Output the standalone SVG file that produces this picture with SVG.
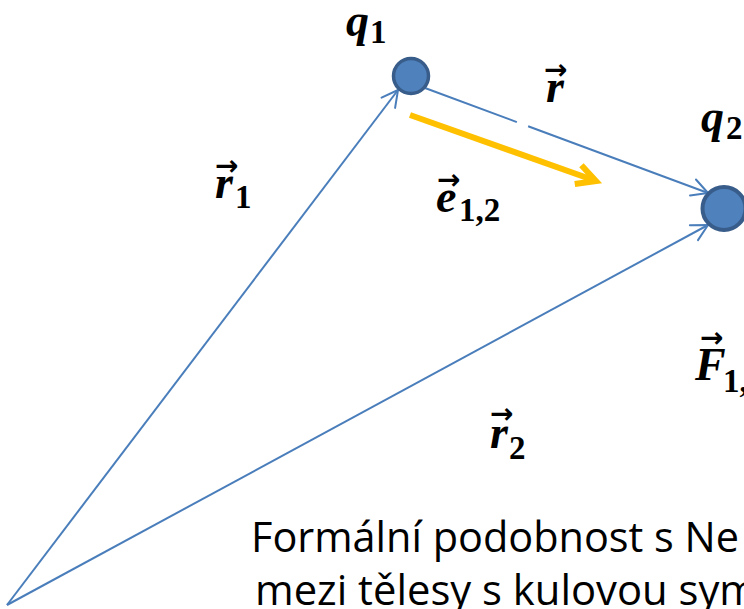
<svg xmlns="http://www.w3.org/2000/svg" width="744" height="609" viewBox="0 0 744 609">
<defs>
<style>
.ln{fill:none;stroke:#4A7EBB;stroke-width:2}
.node{fill:#4F81BD;stroke:#385D8A}
.mi{font-family:"Liberation Serif","DejaVu Serif",serif;font-weight:bold;font-style:italic;font-size:46px;fill:#000}
.sub{font-family:"Liberation Serif","DejaVu Serif",serif;font-weight:bold;font-size:33px;fill:#000}
.vec{font-family:"DejaVu Sans",sans-serif;font-weight:bold;font-size:28px;fill:#000}
.body{font-family:"Open Sans","Noto Sans",sans-serif;font-size:42px;fill:#000}
</style>
<marker id="arrB" markerUnits="userSpaceOnUse" markerWidth="40" markerHeight="40" viewBox="-20 -20 40 40" refX="0" refY="0" orient="auto" overflow="visible">
<path d="M-16,-8.5 L0,0 L-16,8.5" fill="none" stroke="#4A7EBB" stroke-width="2" stroke-linecap="round" stroke-linejoin="round"/>
</marker>
<marker id="arrY" markerUnits="userSpaceOnUse" markerWidth="60" markerHeight="60" viewBox="-30 -30 60 60" refX="0" refY="0" orient="auto" overflow="visible">
<path d="M-19,-10 L0,0 L-19,10" fill="none" stroke="#FFC000" stroke-width="6" stroke-linejoin="miter"/>
</marker>
</defs>
<rect width="744" height="609" fill="#FFFFFF"/>
<g id="connectors">
<line id="r1" class="ln" x1="7" y1="605" x2="398" y2="90" marker-end="url(#arrB)"/>
<line id="r2" class="ln" x1="7" y1="605" x2="708" y2="225" marker-end="url(#arrB)"/>
<line id="r" class="ln" x1="425" y1="88" x2="708" y2="193" stroke-dasharray="98 12 400" marker-end="url(#arrB)"/>
<line id="e12" x1="410" y1="115" x2="596" y2="181" fill="none" stroke="#FFC000" stroke-width="6" marker-end="url(#arrY)"/>
</g>
<g id="q1">
<circle class="node" cx="411" cy="76" r="17.5" stroke-width="3.5"/>
<text class="mi" x="346" y="36">q</text><text class="sub" x="370" y="43">1</text>
</g>
<g id="q2">
<circle class="node" cx="724" cy="208.5" r="21.5" stroke-width="4"/>
<text class="mi" x="701" y="132">q</text><text class="sub" x="726" y="139">2</text>
</g>
<g id="label-r">
<text class="vec" x="544" y="79">→</text><text class="mi" x="546" y="102">r</text>
</g>
<g id="label-r1">
<text class="vec" x="215" y="175">→</text><text class="mi" x="215" y="198">r</text><text class="sub" x="235" y="208">1</text>
</g>
<g id="label-e12">
<text class="vec" x="437" y="189">→</text><text class="mi" x="436" y="212">e</text><text class="sub" x="459" y="221">1,2</text>
</g>
<g id="label-r2">
<text class="vec" x="490" y="423">→</text><text class="mi" x="490" y="448">r</text><text class="sub" x="509" y="459">2</text>
</g>
<g id="label-F">
<text class="vec" x="700" y="347">→</text><text class="mi" x="695" y="380">F</text><text class="sub" x="723" y="392">1,</text>
</g>
<g id="caption">
<text class="body" x="251" y="552" textLength="488" lengthAdjust="spacingAndGlyphs">Formální podobnost s Ne</text>
<text class="body" x="255" y="605" textLength="503" lengthAdjust="spacingAndGlyphs">mezi tělesy s kulovou sym</text>
</g>
</svg>
